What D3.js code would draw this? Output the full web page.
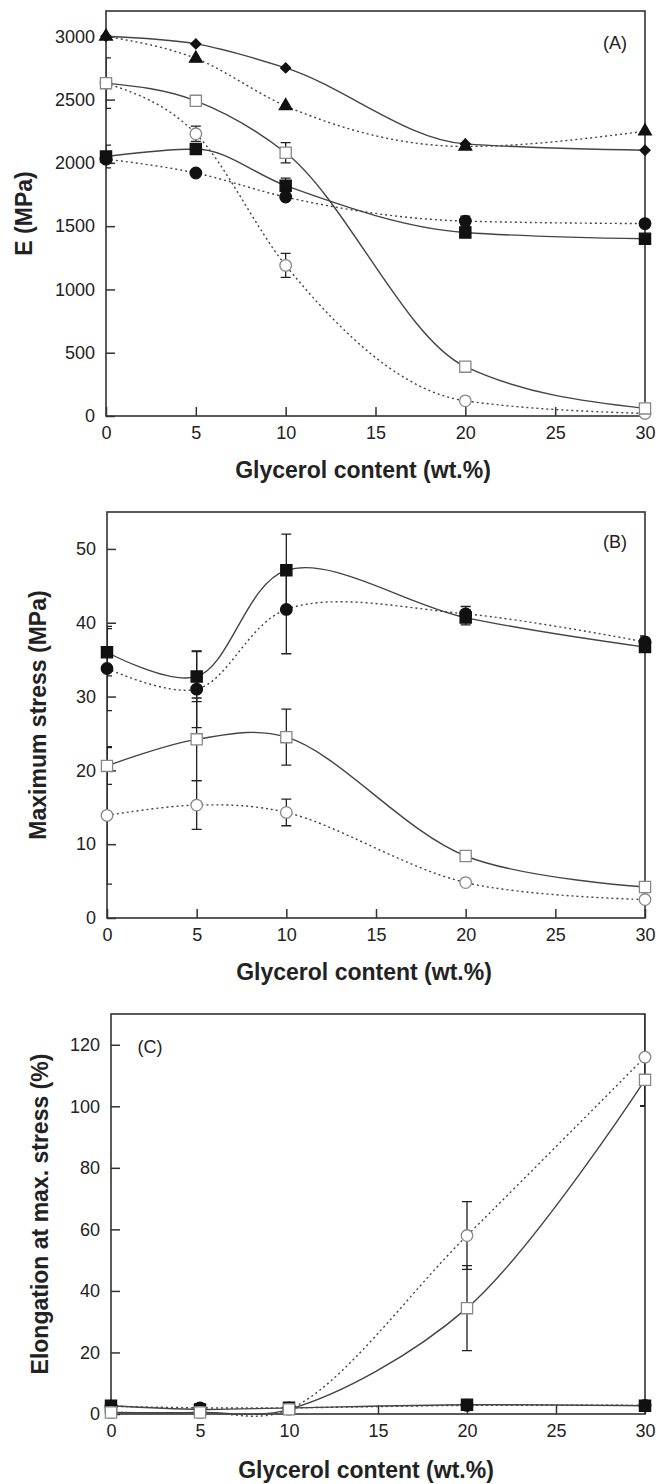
<!DOCTYPE html>
<meta charset="utf-8">
<style>
body { margin: 0; background: #fff; }
text { font-family: "Liberation Sans", Arial, sans-serif; fill: #222; }
.tick text { font-size: 18px; }
.axis-title { font-size: 23px; font-weight: bold; }
.panel-label { font-size: 18px; }
.curve { fill: none; stroke: #444; stroke-width: 1.4px; }
.dotted { stroke-dasharray: 2, 3; }
.err { stroke: #222; stroke-width: 1.3px; fill: none; }
</style>
<body>
<script src="https://d3js.org/d3.v7.min.js"></script>
<script>

// glycerol content (wt.%) - same for every series
var glycerol = [0, 5, 10, 20, 30];
var xTicks = [0, 5, 10, 15, 20, 25, 30];

// (A) Young's modulus E (MPa)
var eDiamond      = [3000, 2940, 2750, 2150, 2100];
var eTriangle     = [3000, 2825, 2450, 2130, 2250];
var eOpenSquare   = [2630, 2490, 2080, 390, 60];
var eOpenCircle   = [2630, 2230, 1190, 120, 20];
var eFilledSquare = [2050, 2110, 1820, 1450, 1400];
var eFilledCircle = [2030, 1920, 1730, 1540, 1520];
var eOpenSquareErr   = [200, 0, 80, 0, 0];
var eOpenCircleErr   = [0, 60, 95, 0, 0];
var eFilledSquareErr = [90, 40, 60, 30, 0];
var eFilledCircleErr = [0, 0, 0, 40, 0];
var eTicks = [0, 500, 1000, 1500, 2000, 2500, 3000];

// (B) maximum stress (MPa)
var sFilledSquare = [36, 32.7, 47.1, 40.7, 36.7];
var sFilledCircle = [33.8, 31, 41.8, 41.2, 37.4];
var sOpenSquare   = [20.6, 24.2, 24.5, 8.4, 4.2];
var sOpenCircle   = [13.9, 15.3, 14.3, 4.8, 2.5];
var sFilledSquareErr = [3.2, 3.4, 4.9, 1, 0.6];
var sFilledCircleErr = [5.7, 5.2, 6, 1, 0.8];
var sOpenSquareErr   = [2.5, 5.6, 3.8, 0, 0];
var sOpenCircleErr   = [9.3, 3.3, 1.8, 0, 0];
var sTicks = [0, 10, 20, 30, 40, 50];

// (C) elongation at max. stress (%)
var lFilledSquare = [2.7, 1.5, 2, 3, 2.7];
var lFilledCircle = [2.5, 2, 2, 2.8, 2.8];
var lOpenSquare   = [0.5, 0.5, 1.5, 34.4, 108.6];
var lOpenCircle   = [0.5, 0.5, 1.5, 58, 116];
var lOpenSquareErr = [0, 0, 0, 13.8, 8.4];
var lOpenCircleErr = [0, 0, 0, 11, 16];
var lTicks = [0, 20, 40, 60, 80, 100, 120];

var W = 656, H = 1484;
var svg = d3.select("body").append("svg")
    .attr("width", W)
    .attr("height", H);

// marker styles
var styles = {
  diamond:      {shape: d3.symbolSquare, size: 50, rot: 45, fill: "#111", stroke: "#111", dotted: false},
  triangle:     {shape: d3.symbolTriangle, size: 70, rot: 0, fill: "#111", stroke: "#111", dotted: true},
  openSquare:   {shape: d3.symbolSquare, size: 125, rot: 0, fill: "#fff", stroke: "#888", dotted: false},
  openCircle:   {shape: d3.symbolCircle, size: 105, rot: 0, fill: "#fff", stroke: "#888", dotted: true},
  filledSquare: {shape: d3.symbolSquare, size: 125, rot: 0, fill: "#111", stroke: "#111", dotted: false},
  filledCircle: {shape: d3.symbolCircle, size: 105, rot: 0, fill: "#111", stroke: "#111", dotted: true}
};

var panels = [
  {id: "a", left: 106, right: 645, top: 11, bottom: 416, ymax: 3200, ticks: eTicks,
   curve: d3.curveMonotoneX,
   title: "E (MPa)", titleX: 24, label: "(A)", labelX: 615, labelY: 43, xTitleX: 363, xTitleY: 470,
   series: [
     {s: "openCircle", v: eOpenCircle, e: eOpenCircleErr},
     {s: "filledCircle", v: eFilledCircle, e: eFilledCircleErr},
     {s: "triangle", v: eTriangle},
     {s: "openSquare", v: eOpenSquare, e: eOpenSquareErr},
     {s: "filledSquare", v: eFilledSquare, e: eFilledSquareErr},
     {s: "diamond", v: eDiamond}
   ]},
  {id: "b", left: 107, right: 645, top: 512, bottom: 918, ymax: 55, ticks: sTicks,
   curve: d3.curveCatmullRom.alpha(0.5),
   title: "Maximum stress (MPa)", titleX: 38, label: "(B)", labelX: 615, labelY: 542, xTitleX: 364, xTitleY: 972,
   series: [
     {s: "openCircle", v: sOpenCircle, e: sOpenCircleErr},
     {s: "filledCircle", v: sFilledCircle, e: sFilledCircleErr},
     {s: "openSquare", v: sOpenSquare, e: sOpenSquareErr},
     {s: "filledSquare", v: sFilledSquare, e: sFilledSquareErr}
   ]},
  {id: "c", left: 111, right: 645, top: 1014, bottom: 1414, ymax: 130, ticks: lTicks,
   curve: d3.curveCatmullRom.alpha(0.5),
   title: "Elongation at max. stress (%)", titleX: 40, label: "(C)", labelX: 150, labelY: 1047, xTitleX: 366, xTitleY: 1470,
   series: [
     {s: "filledCircle", v: lFilledCircle},
     {s: "filledSquare", v: lFilledSquare},
     {s: "openCircle", v: lOpenCircle, e: lOpenCircleErr},
     {s: "openSquare", v: lOpenSquare, e: lOpenSquareErr}
   ]}
];

panels.forEach(function(p) {
  var x = d3.scaleLinear().domain([0, 30]).range([p.left, p.right]);
  var y = d3.scaleLinear().domain([0, p.ymax]).range([p.bottom, p.top]);
  var g = svg.append("g");

  // clip for error bars (they are cut at the frame in the original)
  svg.append("clipPath").attr("id", "clip-" + p.id)
    .append("rect")
      .attr("x", p.left).attr("y", p.top)
      .attr("width", p.right - p.left).attr("height", p.bottom - p.top);

  // axes with inward ticks
  g.append("g")
      .attr("transform", "translate(0," + p.bottom + ")")
      .call(d3.axisBottom(x).tickValues(xTicks).tickSizeInner(-9).tickSizeOuter(0).tickPadding(10))
      .call(function(a) { a.select(".domain").remove(); });
  g.append("g")
      .attr("transform", "translate(" + p.left + ",0)")
      .call(d3.axisLeft(y).tickValues(p.ticks).tickFormat(d3.format("d"))
              .tickSizeInner(-9).tickSizeOuter(0).tickPadding(11))
      .call(function(a) { a.select(".domain").remove(); });
  g.selectAll(".tick line").attr("stroke", "#333").attr("stroke-width", 1.5);

  // frame
  g.append("rect")
      .attr("x", p.left).attr("y", p.top)
      .attr("width", p.right - p.left).attr("height", p.bottom - p.top)
      .attr("fill", "none").attr("stroke", "#333").attr("stroke-width", 1.6);

  // titles
  g.append("text")
      .attr("class", "axis-title")
      .attr("transform", "translate(" + p.titleX + "," + (p.top + p.bottom) / 2 + ") rotate(-90)")
      .attr("text-anchor", "middle")
      .attr("dominant-baseline", "central")
      .text(p.title);
  g.append("text")
      .attr("class", "axis-title")
      .attr("x", p.xTitleX).attr("y", p.xTitleY)
      .attr("text-anchor", "middle")
      .attr("dominant-baseline", "central")
      .text("Glycerol content (wt.%)");
  g.append("text")
      .attr("class", "panel-label")
      .attr("x", p.labelX).attr("y", p.labelY)
      .attr("text-anchor", "middle")
      .attr("dominant-baseline", "central")
      .text(p.label);

  var line = d3.line()
      .x(function(d, i) { return x(glycerol[i]); })
      .y(function(d) { return y(d); })
      .curve(p.curve);

  // curves
  p.series.forEach(function(se) {
    g.append("path")
        .datum(se.v)
        .attr("class", "curve" + (styles[se.s].dotted ? " dotted" : ""))
        .attr("d", line);
  });

  // error bars
  var eg = g.append("g").attr("clip-path", "url(#clip-" + p.id + ")");
  p.series.forEach(function(se) {
    if (!se.e) return;
    se.v.forEach(function(v, i) {
      var err = se.e[i];
      if (!err) return;
      var cx = x(glycerol[i]);
      var y1 = y(v + err), y2 = y(v - err);
      eg.append("path")
          .attr("class", "err")
          .attr("d", "M" + cx + "," + y1 + "V" + y2 +
                     "M" + (cx - 5) + "," + y1 + "H" + (cx + 5) +
                     "M" + (cx - 5) + "," + y2 + "H" + (cx + 5));
    });
  });

  // markers
  p.series.forEach(function(se) {
    var st = styles[se.s];
    g.selectAll(null)
        .data(se.v)
      .enter().append("path")
        .attr("d", d3.symbol().type(st.shape).size(st.size))
        .attr("transform", function(d, i) {
          return "translate(" + x(glycerol[i]) + "," + y(d) + ") rotate(" + st.rot + ")";
        })
        .attr("fill", st.fill)
        .attr("stroke", st.stroke)
        .attr("stroke-width", 1.3);
  });
});

</script>
</body>
